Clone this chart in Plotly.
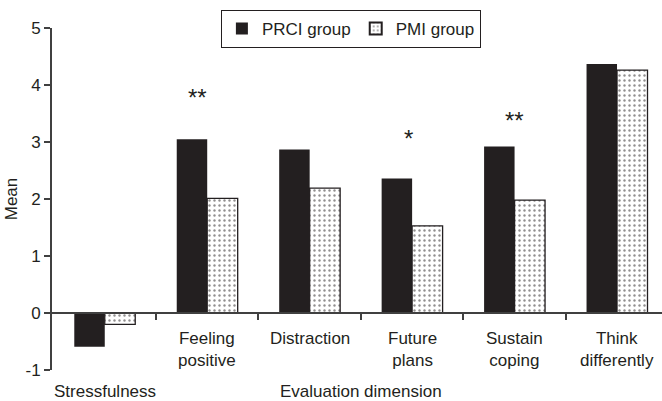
import plotly.graph_objects as go

categories = ["Stressfulness", "Feeling positive", "Distraction", "Future plans",
              "Sustain coping", "Think differently"]
category_labels = ["Stressfulness", "Feeling<br>positive", "Distraction", "Future<br>plans",
                   "Sustain<br>coping", "Think<br>differently"]
prci_values = [-0.59, 3.05, 2.87, 2.36, 2.92, 4.37]
pmi_values = [-0.20, 2.01, 2.19, 1.53, 1.98, 4.26]
sig_marks = ["", "**", "", "*", "**", ""]
sig_heights = [0, 3.84, 0, 3.12, 3.43, 0]
y_ticks = [-1, 0, 1, 2, 3, 4, 5]

INK = "#231f20"
FONT = "Liberation Sans, Arial, sans-serif"

xs = list(range(len(categories)))

fig = go.Figure()
fig.add_trace(go.Bar(
    x=xs, y=prci_values, name="PRCI group",
    marker=dict(color=INK, line=dict(width=0)),
))
fig.add_trace(go.Bar(
    x=xs, y=pmi_values, name="PMI group",
    marker=dict(color="white", line=dict(color=INK, width=1.3),
                pattern=dict(shape=".", fgcolor=INK, bgcolor="white",
                             size=5, solidity=0.18)),
))

annotations = []
for i, lab in enumerate(category_labels):
    if prci_values[i] < 0:
        annotations.append(dict(x=xs[i], y=-1, xref="x", yref="y", text=lab,
                                showarrow=False, yanchor="top", yshift=-10,
                                font=dict(size=17, color=INK, family=FONT)))
    else:
        annotations.append(dict(x=xs[i], y=0, xref="x", yref="y", text=lab,
                                showarrow=False, yanchor="top", yshift=-14,
                                font=dict(size=17, color=INK, family=FONT)))
for i, m in enumerate(sig_marks):
    if m:
        annotations.append(dict(x=xs[i], y=sig_heights[i], xref="x", yref="y", text=m,
                                showarrow=False, yanchor="middle", yshift=-3,
                                xshift=-10 if i == 1 else (-4 if i == 3 else 0),
                                font=dict(size=24, color=INK, family=FONT)))
annotations.append(dict(x=2.5, y=-1, xref="x", yref="y", text="Evaluation dimension",
                        showarrow=False, yanchor="top", yshift=-10,
                        font=dict(size=17, color=INK, family=FONT)))

fig.update_layout(
    width=662, height=401,
    margin=dict(l=52, r=0, t=28, b=31),
    paper_bgcolor="white", plot_bgcolor="white",
    barmode="group", bargap=0.405, bargroupgap=0,
    font=dict(family=FONT, size=17, color=INK),
    showlegend=True,
    legend=dict(orientation="h", x=0.49, xanchor="center", y=1.053, yanchor="top",
                bordercolor=INK, borderwidth=1, bgcolor="white",
                font=dict(size=17, family=FONT, color=INK),
                itemsizing="constant", tracegroupgap=0),
    annotations=annotations,
    xaxis=dict(range=[-0.515, 5.439], anchor="free", position=1/6,
               showline=True, linecolor="#404040", linewidth=1.5,
               ticks="outside", tickvals=[0.5, 1.5, 2.5, 3.5, 4.5], ticklen=6,
               tickcolor="#404040", tickwidth=1.5,
               showticklabels=False, showgrid=False, zeroline=False),
    yaxis=dict(range=[-1, 5], tickvals=y_ticks, ticktext=[str(v) for v in y_ticks],
               showline=True, linecolor="#404040", linewidth=2,
               ticks="outside", ticklen=6, tickcolor="#404040", tickwidth=1.5,
               showgrid=False, zeroline=False,
               tickfont=dict(size=17, family=FONT, color=INK),
               title=dict(text="Mean", standoff=4, font=dict(size=17, family=FONT, color=INK))),
)

fig.write_html("out.html", config={"displayModeBar": False},
               post_script="document.body.style.margin='0';")
